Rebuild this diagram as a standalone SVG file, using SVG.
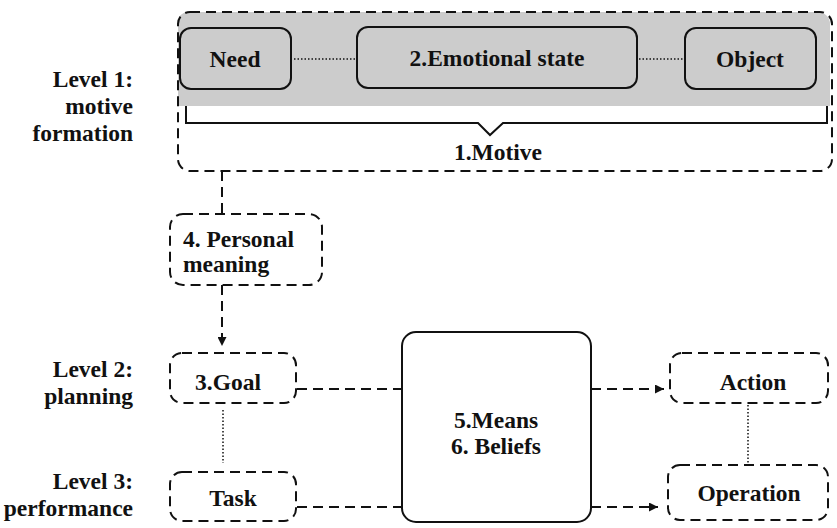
<svg xmlns="http://www.w3.org/2000/svg" width="837" height="528" viewBox="0 0 837 528">
<defs>
<style>
text{font-family:'Liberation Serif','Times New Roman',serif;font-weight:bold;font-size:23.5px;fill:#111}
.c{text-anchor:middle}
.e{text-anchor:end}
.dash{fill:none;stroke:#111;stroke-width:2;stroke-dasharray:10 6}
.solid{fill:none;stroke:#111;stroke-width:2}
.dot{fill:none;stroke:#111;stroke-width:1.5;stroke-dasharray:1.5 2}
</style>
<marker id="ah" viewBox="0 0 10 10" refX="10" refY="5" markerWidth="9" markerHeight="9" markerUnits="userSpaceOnUse" orient="auto">
<path d="M0,0 L10,5 L0,10 Z" fill="#111"/>
</marker>
</defs>
<rect width="837" height="528" fill="#fff"/>
<g id="labels">
<text class="e" x="133" y="87">Level 1:</text>
<text class="e" x="133" y="114">motive</text>
<text class="e" x="133" y="141">formation</text>
<text class="e" x="133" y="377">Level 2:</text>
<text class="e" x="133" y="404">planning</text>
<text class="e" x="133" y="489">Level 3:</text>
<text class="e" x="133" y="516">performance</text>
</g>
<g id="motive">
<path d="M188,12 H818 A12,12 0 0 1 830,24 V106 H178 V24 A10,10 0 0 1 188,12 Z" fill="#cccccc"/>
<rect class="dash" x="178" y="12" width="654" height="159" rx="12"/>
<path class="solid" d="M186,106 V123 H478 L490,135 L503,123 H827 V106"/>
<text class="c" x="498" y="160">1.Motive</text>
</g>
<g id="need">
<rect class="solid" x="180" y="28" width="111" height="61" rx="11" fill="#cccccc"/>
<text class="c" x="235" y="67">Need</text>
</g>
<g id="emotional">
<rect class="solid" x="357" y="27" width="280" height="61" rx="11" fill="#cccccc"/>
<text class="c" x="497" y="66">2.Emotional state</text>
</g>
<g id="object">
<rect class="solid" x="685" y="28" width="131" height="61" rx="11" fill="#cccccc"/>
<text class="c" x="750" y="67">Object</text>
</g>
<g id="personal">
<rect class="dash" x="170" y="214" width="152" height="71" rx="13"/>
<text x="183" y="247">4. Personal</text>
<text x="183" y="272">meaning</text>
</g>
<g id="goal">
<rect class="dash" x="170" y="353" width="126" height="50" rx="12"/>
<text class="c" x="228" y="390">3.Goal</text>
</g>
<g id="task">
<rect class="dash" x="170" y="472" width="126" height="49" rx="12"/>
<text class="c" x="233" y="506">Task</text>
</g>
<g id="means">
<rect class="solid" x="402" y="332" width="189" height="190" rx="14" fill="#fff"/>
<text class="c" x="496" y="428">5.Means</text>
<text class="c" x="496" y="454">6. Beliefs</text>
</g>
<g id="action">
<rect class="dash" x="670" y="353" width="158" height="50" rx="12"/>
<text class="c" x="753" y="390">Action</text>
</g>
<g id="operation">
<rect class="dash" x="668" y="465" width="160" height="55" rx="12"/>
<text class="c" x="749" y="501">Operation</text>
</g>
<g id="connectors">
<path class="dash" d="M222,171 V214"/>
<path class="dash" d="M222,285 V346" marker-end="url(#ah)"/>
<path class="dot" d="M294,59 H355"/>
<path class="dot" d="M639,59 H683"/>
<path class="dot" d="M223,410 V463"/>
<path class="dot" d="M748,405 V463"/>
<path class="dash" d="M297,389 H402"/>
<path class="dash" d="M297,507 H402"/>
<path class="dash" d="M591,389 H664" marker-end="url(#ah)"/>
<path class="dash" d="M591,507 H658" marker-end="url(#ah)"/>
</g>
</svg>
